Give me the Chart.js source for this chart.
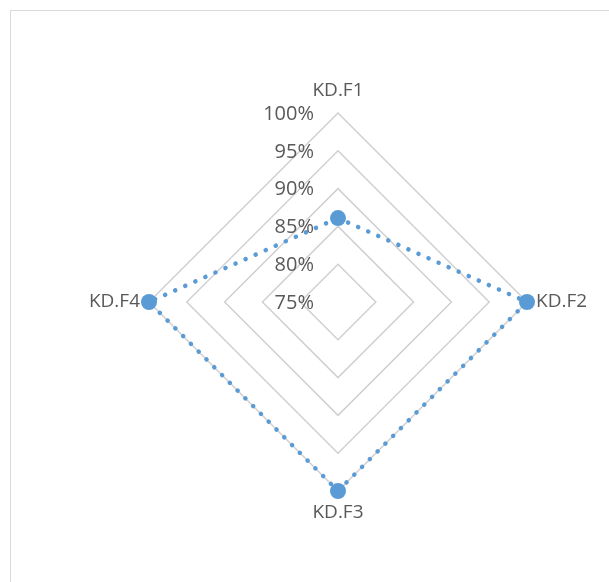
<!DOCTYPE html>
<html>
<head>
<meta charset="utf-8">
<script src="https://cdn.jsdelivr.net/npm/chart.js@4"></script>
<style>
  html, body { margin: 0; padding: 0; background: #fff; }
  body { width: 609px; height: 582px; position: relative; overflow: hidden; }
  #frame { position: absolute; left: 10px; top: 10px; width: 700px; height: 700px;
    border-top: 1px solid #d9d9d9; border-left: 1px solid #d9d9d9; }
  #wrap { position: absolute; left: 0; top: 0; width: 609px; height: 582px; }
</style>
</head>
<body>
<div id="frame"></div>
<div id="wrap"><canvas id="chart" width="609" height="582"></canvas></div>
<script>
const categories = ['KD.F1', 'KD.F2', 'KD.F3', 'KD.F4']
const values = [86.1, 100, 100, 100]
const tickValues = [75, 80, 85, 90, 95, 100]
const textColor = '#595959'
const fontFamily = '"Open Sans", sans-serif'

// labels drawn by hand so they sit where Excel put them
const labelPlugin = {
  id: 'labelPlugin',
  afterDraw(chart) {
    let scale = chart.scales.r
    let ctx = chart.ctx
    ctx.save()
    ctx.fillStyle = textColor

    // tick labels to the left of the vertical axis
    ctx.font = '20px ' + fontFamily
    ctx.textAlign = 'right'
    ctx.textBaseline = 'middle'
    tickValues.forEach(v => {
      let y = scale.yCenter - scale.getDistanceFromCenterForValue(v)
      ctx.fillText(v + '%', scale.xCenter - 24, y + 1)
    })

    // category labels
    ctx.font = '19px ' + fontFamily
    categories.forEach((name, i) => {
      let angle = scale.getIndexAngle(i)
      let vertical = Math.abs(Math.sin(angle)) < 0.5
      let pos = scale.getPointPosition(i, scale.drawingArea + (vertical ? 22 : 9))
      if (vertical) {
        ctx.textAlign = 'center'
      } else {
        ctx.textAlign = pos.x > scale.xCenter ? 'left' : 'right'
      }
      ctx.textBaseline = 'middle'
      ctx.fillText(name, pos.x, pos.y)
    })
    ctx.restore()
  }
}

let ctx = document.getElementById('chart').getContext('2d')
let myChart = new Chart(ctx, {
  type: 'radar',
  data: {
    labels: categories,
    datasets: [{
      data: values,
      borderColor: '#5b9bd5',
      backgroundColor: '#5b9bd5',
      borderWidth: 4.5,
      borderDash: [0.1, 10.9],
      borderCapStyle: 'round',
      fill: false,
      pointRadius: 8,
      pointBackgroundColor: '#5b9bd5',
      pointBorderWidth: 0,
      tension: 0,
    }]
  },
  options: {
    responsive: false,
    animation: false,
    layout: {
      padding: { left: 149, right: 82, top: 113, bottom: 91 }
    },
    plugins: {
      legend: { display: false },
      tooltip: { enabled: false },
    },
    scales: {
      r: {
        min: 75,
        max: 100,
        ticks: { stepSize: 5, display: false },
        grid: { circular: false, color: '#d0d0d0', lineWidth: 1.5 },
        angleLines: { display: false },
        pointLabels: { display: false },
      }
    }
  },
  plugins: [labelPlugin]
})
</script>
</body>
</html>
